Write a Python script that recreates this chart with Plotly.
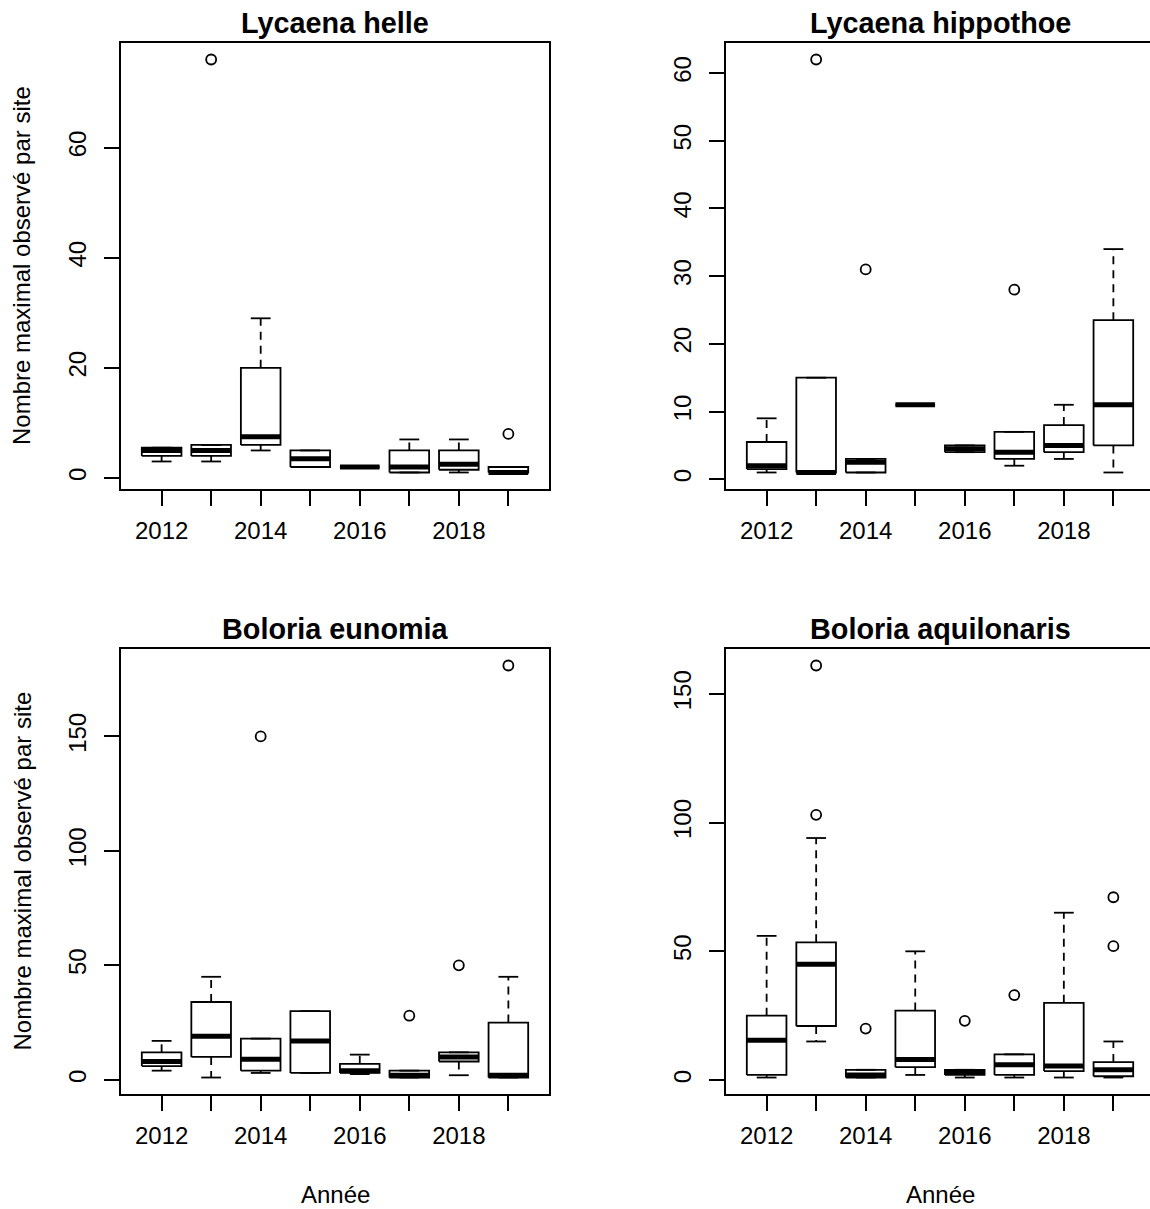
import plotly.graph_objects as go

# ---------------- data ----------------
years = [2012, 2013, 2014, 2015, 2016, 2017, 2018, 2019]
year_labels = ["2012", "", "2014", "", "2016", "", "2018", ""]

titles = ["Lycaena helle", "Lycaena hippothoe", "Boloria eunomia", "Boloria aquilonaris"]

helle_lo = [3, 3, 5, 2, 2, 1, 1, 1]
helle_q1 = [4, 4, 6, 2, 2, 1, 1.5, 1]
helle_med = [5, 5, 7.5, 3.5, 2, 2, 2.5, 1]
helle_q3 = [5.5, 6, 20, 5, 2, 5, 5, 2]
helle_hi = [5.5, 6, 29, 5, 2, 7, 7, 2]
helle_out_x = [2013, 2019]
helle_out_y = [76, 8]

hippo_lo = [1, 1, 1, 11, 4, 2, 3, 1]
hippo_q1 = [1.5, 1, 1, 11, 4, 3, 4, 5]
hippo_med = [2, 1, 2.5, 11, 4.5, 4, 5, 11]
hippo_q3 = [5.5, 15, 3, 11, 5, 7, 8, 23.5]
hippo_hi = [9, 15, 3, 11, 5, 7, 11, 34]
hippo_out_x = [2013, 2014, 2017]
hippo_out_y = [62, 31, 28]

eunom_lo = [4, 1, 3, 3, 2.5, 1, 2, 1]
eunom_q1 = [6, 10, 4, 3, 3, 1, 8, 1]
eunom_med = [8, 19, 9, 17, 4, 2, 10, 2]
eunom_q3 = [12, 34, 18, 30, 7, 4, 12, 25]
eunom_hi = [17, 45, 18, 30, 11, 4, 12, 45]
eunom_out_x = [2014, 2017, 2018, 2019]
eunom_out_y = [150, 28, 50, 181]

aquil_lo = [1, 15, 1, 2, 1, 1, 1, 1]
aquil_q1 = [2, 21, 1, 5, 2, 2, 3.5, 1.5]
aquil_med = [15.5, 45, 2, 8, 3, 6, 5.5, 4]
aquil_q3 = [25, 53.5, 4, 27, 4, 10, 30, 7]
aquil_hi = [56, 94, 4, 50, 4, 10, 65, 15]
aquil_out_x = [2013, 2013, 2014, 2016, 2017, 2019, 2019]
aquil_out_y = [103, 161, 20, 23, 33, 52, 71]

y_ranges = [[-2, 79], [-1.44, 64.44], [-6.2, 188.2], [-5.4, 167.4]]
y_ticks = [[0, 20, 40, 60], [0, 10, 20, 30, 40, 50, 60], [0, 50, 100, 150], [0, 50, 100, 150]]

panels = [
    (helle_lo, helle_q1, helle_med, helle_q3, helle_hi, helle_out_x, helle_out_y),
    (hippo_lo, hippo_q1, hippo_med, hippo_q3, hippo_hi, hippo_out_x, hippo_out_y),
    (eunom_lo, eunom_q1, eunom_med, eunom_q3, eunom_hi, eunom_out_x, eunom_out_y),
    (aquil_lo, aquil_q1, aquil_med, aquil_q3, aquil_hi, aquil_out_x, aquil_out_y),
]

# ---------------- layout geometry ----------------
W, H = 1150, 1209
FONT = "Liberation Sans, Arial, sans-serif"
BOX_HALF = 0.4
CAP_HALF = 0.2

# panel pixel boxes (left, right, top, bottom)
pix = [(121, 549, 43, 489), (726, 1150, 43, 489),
       (121, 549, 649, 1094), (726, 1150, 649, 1094)]
px_per_unit = 428 / 8.64
x_left = 2011.18

fig = go.Figure()
layout = dict(width=W, height=H, margin=dict(l=0, r=0, t=0, b=0),
              paper_bgcolor="white", plot_bgcolor="white", showlegend=False,
              font=dict(family=FONT, size=24, color="black"))
annotations = []

for i, (lo, q1, med, q3, hi, ox, oy) in enumerate(panels):
    xa = "x" if i == 0 else f"x{i+1}"
    ya = "y" if i == 0 else f"y{i+1}"
    l, r, t, b = pix[i]
    x_right = x_left + (r - l) / px_per_unit
    xkey = "xaxis" if i == 0 else f"xaxis{i+1}"
    ykey = "yaxis" if i == 0 else f"yaxis{i+1}"
    layout[xkey] = dict(domain=[l / W, r / W], anchor=ya, range=[x_left, x_right],
                        tickmode="array", tickvals=years, ticktext=year_labels,
                        ticks="outside", ticklen=15, tickwidth=1.5, tickcolor="black",
                        showline=True, linecolor="black", linewidth=1.5, mirror=True,
                        showgrid=False, zeroline=False, ticklabelstandoff=4,
                        tickfont=dict(size=24, family=FONT, color="black"))
    layout[ykey] = dict(domain=[1 - b / H, 1 - t / H], anchor=xa, range=y_ranges[i],
                        tickmode="array", tickvals=y_ticks[i], tickangle=-90,
                        ticks="outside", ticklen=15, tickwidth=1.5, tickcolor="black",
                        showline=True, linecolor="black", linewidth=1.5,
                        mirror=(i % 2 == 0), showgrid=False, zeroline=False,
                        ticklabelstandoff=9,
                        tickfont=dict(size=24, family=FONT, color="black"))

    # whiskers (dashed)
    wx, wy = [], []
    for yr, a, c, d, e in zip(years, lo, q1, q3, hi):
        wx += [yr, yr, None, yr, yr, None]
        wy += [d, e, None, c, a, None]
    fig.add_trace(go.Scatter(x=wx, y=wy, xaxis=xa, yaxis=ya, mode="lines",
                             line=dict(color="black", width=1.8, dash="8px,6px"),
                             hoverinfo="skip"))
    # caps
    cx, cy = [], []
    for yr, a, e in zip(years, lo, hi):
        cx += [yr - CAP_HALF, yr + CAP_HALF, None, yr - CAP_HALF, yr + CAP_HALF, None]
        cy += [e, e, None, a, a, None]
    fig.add_trace(go.Scatter(x=cx, y=cy, xaxis=xa, yaxis=ya, mode="lines",
                             line=dict(color="black", width=1.8), hoverinfo="skip"))
    # boxes
    bx, by = [], []
    for yr, c, d in zip(years, q1, q3):
        bx += [yr - BOX_HALF, yr + BOX_HALF, yr + BOX_HALF, yr - BOX_HALF, yr - BOX_HALF, None]
        by += [c, c, d, d, c, None]
    fig.add_trace(go.Scatter(x=bx, y=by, xaxis=xa, yaxis=ya, mode="lines",
                             line=dict(color="black", width=1.8), hoverinfo="skip"))
    # medians
    mx, my = [], []
    for yr, m in zip(years, med):
        mx += [yr - BOX_HALF, yr + BOX_HALF, None]
        my += [m, m, None]
    fig.add_trace(go.Scatter(x=mx, y=my, xaxis=xa, yaxis=ya, mode="lines",
                             line=dict(color="black", width=5), hoverinfo="skip"))
    # outliers
    fig.add_trace(go.Scatter(x=ox, y=oy, xaxis=xa, yaxis=ya, mode="markers",
                             marker=dict(symbol="circle-open", size=10, color="black",
                                         line=dict(width=1.8, color="black")),
                             hoverinfo="skip"))

    # title
    cx_px = (l + (l + 428)) / 2
    annotations.append(dict(text=titles[i], xref="paper", yref="paper",
                            x=cx_px / W, y=1 - (t - 20) / H, xanchor="center", yanchor="middle",
                            showarrow=False,
                            font=dict(size=28.8, family=FONT, color="black", weight="bold")))
    if i % 2 == 0:
        annotations.append(dict(text="Nombre maximal observé par site", xref="paper", yref="paper",
                                x=22 / W, y=1 - ((t + b) / 2) / H, xanchor="center", yanchor="middle",
                                textangle=-90, showarrow=False,
                                font=dict(size=24, family=FONT, color="black")))
    if i >= 2:
        annotations.append(dict(text="Année", xref="paper", yref="paper",
                                x=cx_px / W, y=1 - 1194 / H, xanchor="center", yanchor="middle",
                                showarrow=False,
                                font=dict(size=24, family=FONT, color="black")))

layout["annotations"] = annotations
fig.update_layout(**layout)
fig.write_html("out.html")
